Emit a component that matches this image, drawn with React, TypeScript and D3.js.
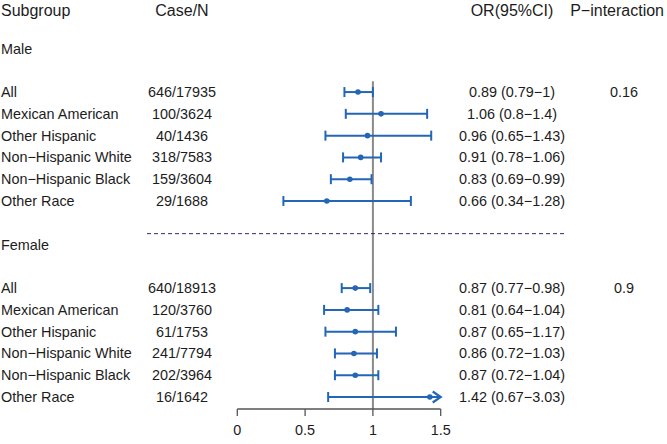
import React from "react";
import * as d3 from "d3";

const headers = ["Subgroup", "Case/N", "OR(95%CI)", "P\u2212interaction"];
const groups = ["Male", "Female"];
const subgroups = ["All", "Mexican American", "Other Hispanic", "Non\u2212Hispanic White", "Non\u2212Hispanic Black", "Other Race"];
const maleCases = ["646/17935", "100/3624", "40/1436", "318/7583", "159/3604", "29/1688"];
const femaleCases = ["640/18913", "120/3760", "61/1753", "241/7794", "202/3964", "16/1642"];
const maleOR = [0.89, 1.06, 0.96, 0.91, 0.83, 0.66];
const maleLo = [0.79, 0.8, 0.65, 0.78, 0.69, 0.34];
const maleHi = [1, 1.4, 1.43, 1.06, 0.99, 1.28];
const femaleOR = [0.87, 0.81, 0.87, 0.86, 0.87, 1.42];
const femaleLo = [0.77, 0.64, 0.65, 0.72, 0.72, 0.67];
const femaleHi = [0.98, 1.04, 1.17, 1.03, 1.04, 3.03];
const maleText = ["0.89 (0.79\u22121)", "1.06 (0.8\u22121.4)", "0.96 (0.65\u22121.43)", "0.91 (0.78\u22121.06)", "0.83 (0.69\u22120.99)", "0.66 (0.34\u22121.28)"];
const femaleText = ["0.87 (0.77\u22120.98)", "0.81 (0.64\u22121.04)", "0.87 (0.65\u22121.17)", "0.86 (0.72\u22121.03)", "0.87 (0.72\u22121.04)", "1.42 (0.67\u22123.03)"];
const pInteraction = ["0.16", "0.9"];
const xTicks = [0, 0.5, 1, 1.5];

const W = 667;
const H = 444;
const BLUE = "#2366b5";
const TXT = "#1c1c1c";
const BODY_FONT = "'Liberation Sans', Arial, sans-serif";
const HEAD_FONT = "'Liberation Sans Narrow', 'Arial Narrow', sans-serif";

export default function App() {
  const x = d3.scaleLinear().domain([0, 1.5]).range([237.3, 440.7]);
  const y = d3.scaleLinear().domain([0, 16]).range([48.5, 397]);
  const colCase = 182;
  const colOR = 512;
  const colP = 624;
  const fs = 14.4;

  const sections = [
    { label: groups[0], start: 0, cases: maleCases, or: maleOR, lo: maleLo, hi: maleHi, text: maleText, p: pInteraction[0] },
    { label: groups[1], start: 9, cases: femaleCases, or: femaleOR, lo: femaleLo, hi: femaleHi, text: femaleText, p: pInteraction[1] },
  ];

  const axisY = y(16.55);
  const xMax = x.domain()[1];

  return (
    <svg width={W} height={H} style={{ position: "absolute", left: 0, top: 0, background: "#fff" }}>
      <g fontFamily={HEAD_FONT} fontSize={16} fill={TXT}>
        <text x={1} y={15.5}>{headers[0]}</text>
        <text x={colCase} y={15.5} textAnchor="middle">{headers[1]}</text>
        <text x={colOR} y={15.5} textAnchor="middle">{headers[2]}</text>
        <text x={664} y={15.5} textAnchor="end">{headers[3]}</text>
      </g>
      {/* reference line */}
      <line x1={x(1)} x2={x(1)} y1={y(1.5)} y2={axisY} stroke="#8a8a8a" strokeWidth={2} />
      {/* dashed separator */}
      <line x1={147} x2={565} y1={y(8.5)} y2={y(8.5)} stroke="#2b2b7c" strokeWidth={1} strokeDasharray="4 3" />
      {sections.map((s, si) => (
        <g key={si} fontFamily={BODY_FONT} fontSize={fs} fill={TXT}>
          <text x={1} y={y(s.start)} dy="0.35em">{s.label}</text>
          {subgroups.map((sg, i) => {
            const yy = y(s.start + 2 + i);
            const lo = s.lo[i];
            const hi = s.hi[i];
            const clipped = hi > xMax;
            const x1 = x(lo);
            const x2 = x(Math.min(hi, xMax));
            return (
              <g key={i}>
                <text x={1} y={yy} dy="0.35em">{sg}</text>
                <text x={colCase} y={yy} dy="0.35em" textAnchor="middle">{s.cases[i]}</text>
                <text x={colOR} y={yy} dy="0.35em" textAnchor="middle">{s.text[i]}</text>
                {i === 0 && <text x={colP} y={yy} dy="0.35em" textAnchor="middle">{s.p}</text>}
                <line x1={x1} x2={x2} y1={yy} y2={yy} stroke={BLUE} strokeWidth={2} />
                <line x1={x1} x2={x1} y1={yy - 5} y2={yy + 5} stroke={BLUE} strokeWidth={2} />
                {clipped ? (
                  <path d={`M${x2 - 8},${yy - 5.5}L${x2},${yy}L${x2 - 8},${yy + 5.5}`} fill="none" stroke={BLUE} strokeWidth={2.2} />
                ) : (
                  <line x1={x2} x2={x2} y1={yy - 5} y2={yy + 5} stroke={BLUE} strokeWidth={2} />
                )}
                <circle cx={x(s.or[i])} cy={yy} r={2.8} fill={BLUE} />
              </g>
            );
          })}
        </g>
      ))}
      {/* axis */}
      <g stroke="#555" strokeWidth={1.3}>
        <line x1={x(0)} x2={x(1.5)} y1={axisY} y2={axisY} />
        {xTicks.map((t) => (
          <line key={t} x1={x(t)} x2={x(t)} y1={axisY} y2={axisY + 7} />
        ))}
      </g>
      <g fontFamily={BODY_FONT} fontSize={fs} fill={TXT}>
        {xTicks.map((t) => (
          <text key={t} x={x(t)} y={axisY + 20.5} dy="0.35em" textAnchor="middle">{String(t)}</text>
        ))}
      </g>
    </svg>
  );
}
